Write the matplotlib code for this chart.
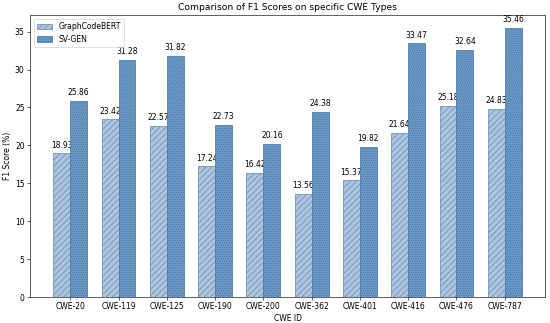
import matplotlib
matplotlib.use("Agg")
import matplotlib.pyplot as plt
import numpy as np


cwe_ids = ["CWE-20", "CWE-119", "CWE-125", "CWE-190", "CWE-200",
           "CWE-362", "CWE-401", "CWE-416", "CWE-476", "CWE-787"]
graphcodebert = [18.93, 23.42, 22.57, 17.24, 16.42, 13.56, 15.37, 21.64, 25.18, 24.83]
sv_gen = [25.86, 31.28, 31.82, 22.73, 20.16, 24.38, 19.82, 33.47, 32.64, 35.46]


def main():
    # drawn big and saved at low dpi, like the reference (a scaled-down export)
    fig = plt.figure(figsize=(10, 5.873), dpi=55)
    ax = fig.add_axes([0.0545, 0.0805, 0.9365, 0.873])

    x = np.arange(len(cwe_ids))
    width = 0.35

    bars1 = ax.bar(x - width / 2, graphcodebert, width, label="GraphCodeBERT",
                   color="#adc4df", edgecolor="#6a8fb8", hatch="///",
                   linewidth=1, zorder=2)
    bars2 = ax.bar(x + width / 2, sv_gen, width, label="SV-GEN",
                   color="#6d9bc7", edgecolor="#4a78a4", hatch="....",
                   linewidth=1, zorder=4)

    for bar, value in zip(bars1, graphcodebert):
        ax.text(bar.get_x() + bar.get_width() / 2, bar.get_height() + 0.5,
                f"{value:.2f}", ha="center", va="bottom", fontsize=10,
                color="black", zorder=3,
                bbox=dict(facecolor="white", edgecolor="none", pad=1))

    for bar, value in zip(bars2, sv_gen):
        ax.text(bar.get_x() + bar.get_width() / 2, bar.get_height() + 0.5,
                f"{value:.2f}", ha="center", va="bottom", fontsize=10,
                color="black", zorder=5)

    ax.set_xticks(x)
    ax.set_xticklabels(cwe_ids, fontsize=10)
    ax.tick_params(axis="y", labelsize=10)
    ax.set_ylim(0, 37.2)
    ax.set_xlabel("CWE ID", fontsize=10)
    ax.set_ylabel("F1 Score (%)", fontsize=10)
    ax.set_title("Comparison of F1 Scores on specific CWE Types", fontsize=12)
    ax.legend(loc="upper left", fontsize=10)

    fig.savefig("out.png", dpi=55)
    plt.close(fig)


if __name__ == "__main__":
    main()
